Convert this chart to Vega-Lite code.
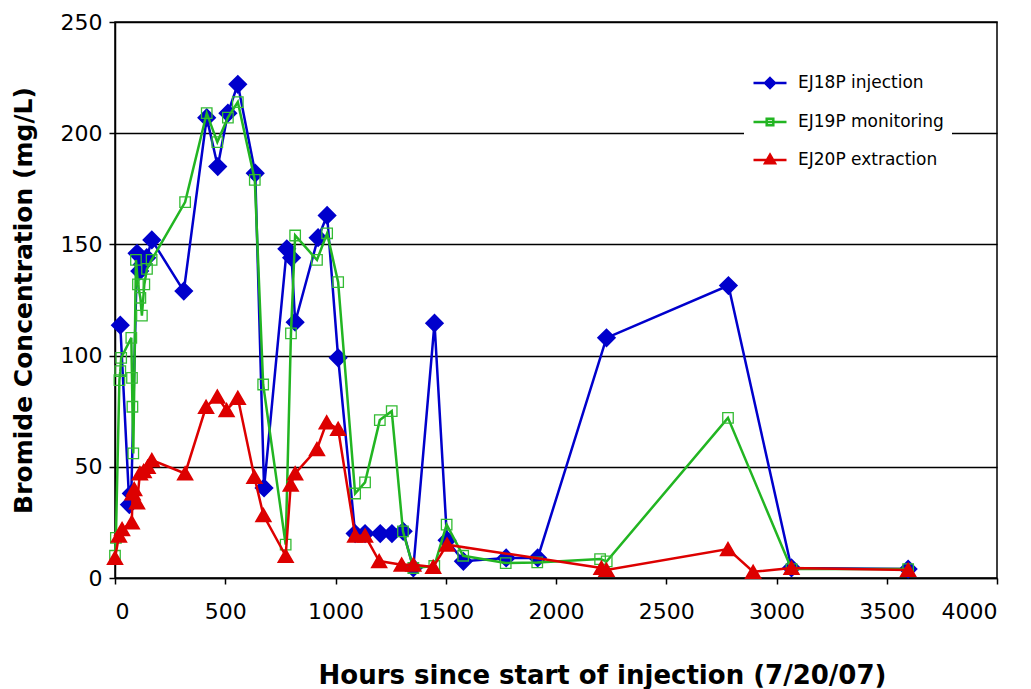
{
  "$schema": "https://vega.github.io/schema/vega-lite/v6.json",
  "width": 882,
  "height": 556,
  "autosize": "none",
  "padding": {"left": 115, "top": 22, "right": 34, "bottom": 111},
  "background": "white",
  "config": {
    "font": "DejaVu Sans",
    "view": {"stroke": "#000000", "strokeWidth": 1.5},
    "axis": {
      "domainColor": "#000000", "domainWidth": 1.5,
      "tickColor": "#000000", "tickWidth": 1.5, "tickSize": 6,
      "labelFont": "DejaVu Sans", "labelFontSize": 22, "labelColor": "#000000",
      "titleFont": "DejaVu Sans", "titleFontWeight": "bold", "titleColor": "#000000",
      "gridColor": "#000000", "gridWidth": 1.3, "gridOpacity": 1
    }
  },
  "datasets": {
    "pts": [
    {"s": "EJ18P injection", "h": 24, "c": 113.7},
    {"s": "EJ18P injection", "h": 65, "c": 33},
    {"s": "EJ18P injection", "h": 74, "c": 38},
    {"s": "EJ18P injection", "h": 100, "c": 146},
    {"s": "EJ18P injection", "h": 112, "c": 138},
    {"s": "EJ18P injection", "h": 124, "c": 141},
    {"s": "EJ18P injection", "h": 144, "c": 144},
    {"s": "EJ18P injection", "h": 167, "c": 152},
    {"s": "EJ18P injection", "h": 312, "c": 129},
    {"s": "EJ18P injection", "h": 416, "c": 207},
    {"s": "EJ18P injection", "h": 466, "c": 185},
    {"s": "EJ18P injection", "h": 512, "c": 209},
    {"s": "EJ18P injection", "h": 557, "c": 222},
    {"s": "EJ18P injection", "h": 636, "c": 182},
    {"s": "EJ18P injection", "h": 676, "c": 40.5},
    {"s": "EJ18P injection", "h": 779, "c": 148},
    {"s": "EJ18P injection", "h": 801, "c": 144},
    {"s": "EJ18P injection", "h": 817, "c": 115},
    {"s": "EJ18P injection", "h": 921, "c": 153},
    {"s": "EJ18P injection", "h": 962, "c": 163},
    {"s": "EJ18P injection", "h": 1012, "c": 99},
    {"s": "EJ18P injection", "h": 1089, "c": 20},
    {"s": "EJ18P injection", "h": 1134, "c": 20},
    {"s": "EJ18P injection", "h": 1203, "c": 20},
    {"s": "EJ18P injection", "h": 1256, "c": 20},
    {"s": "EJ18P injection", "h": 1307, "c": 21},
    {"s": "EJ18P injection", "h": 1353, "c": 4.5},
    {"s": "EJ18P injection", "h": 1449, "c": 114.6},
    {"s": "EJ18P injection", "h": 1506, "c": 17},
    {"s": "EJ18P injection", "h": 1580, "c": 7.5},
    {"s": "EJ18P injection", "h": 1774, "c": 9},
    {"s": "EJ18P injection", "h": 1917, "c": 9},
    {"s": "EJ18P injection", "h": 2229, "c": 108},
    {"s": "EJ18P injection", "h": 2782, "c": 131.5},
    {"s": "EJ18P injection", "h": 3068, "c": 4.5},
    {"s": "EJ18P injection", "h": 3597, "c": 4},
    {"s": "EJ19P monitoring", "h": 0, "c": 10},
    {"s": "EJ19P monitoring", "h": 4, "c": 18},
    {"s": "EJ19P monitoring", "h": 20, "c": 89},
    {"s": "EJ19P monitoring", "h": 24, "c": 93},
    {"s": "EJ19P monitoring", "h": 28, "c": 99},
    {"s": "EJ19P monitoring", "h": 74, "c": 108},
    {"s": "EJ19P monitoring", "h": 77, "c": 90},
    {"s": "EJ19P monitoring", "h": 79, "c": 77},
    {"s": "EJ19P monitoring", "h": 83, "c": 56},
    {"s": "EJ19P monitoring", "h": 95, "c": 143},
    {"s": "EJ19P monitoring", "h": 104, "c": 132},
    {"s": "EJ19P monitoring", "h": 115, "c": 126},
    {"s": "EJ19P monitoring", "h": 122, "c": 118},
    {"s": "EJ19P monitoring", "h": 133, "c": 132},
    {"s": "EJ19P monitoring", "h": 145, "c": 139},
    {"s": "EJ19P monitoring", "h": 166, "c": 143},
    {"s": "EJ19P monitoring", "h": 318, "c": 169},
    {"s": "EJ19P monitoring", "h": 416, "c": 209},
    {"s": "EJ19P monitoring", "h": 464, "c": 196},
    {"s": "EJ19P monitoring", "h": 512, "c": 207},
    {"s": "EJ19P monitoring", "h": 557, "c": 214},
    {"s": "EJ19P monitoring", "h": 634, "c": 179},
    {"s": "EJ19P monitoring", "h": 672, "c": 87},
    {"s": "EJ19P monitoring", "h": 774, "c": 15},
    {"s": "EJ19P monitoring", "h": 798, "c": 110},
    {"s": "EJ19P monitoring", "h": 817, "c": 154},
    {"s": "EJ19P monitoring", "h": 916, "c": 143},
    {"s": "EJ19P monitoring", "h": 962, "c": 155},
    {"s": "EJ19P monitoring", "h": 1012, "c": 133},
    {"s": "EJ19P monitoring", "h": 1089, "c": 38},
    {"s": "EJ19P monitoring", "h": 1134, "c": 43},
    {"s": "EJ19P monitoring", "h": 1201, "c": 71},
    {"s": "EJ19P monitoring", "h": 1255, "c": 75},
    {"s": "EJ19P monitoring", "h": 1306, "c": 21},
    {"s": "EJ19P monitoring", "h": 1353, "c": 4.5},
    {"s": "EJ19P monitoring", "h": 1448, "c": 5.4},
    {"s": "EJ19P monitoring", "h": 1504, "c": 24},
    {"s": "EJ19P monitoring", "h": 1579, "c": 10},
    {"s": "EJ19P monitoring", "h": 1772, "c": 6.7},
    {"s": "EJ19P monitoring", "h": 1915, "c": 7},
    {"s": "EJ19P monitoring", "h": 2200, "c": 8.5},
    {"s": "EJ19P monitoring", "h": 2230, "c": 7.5},
    {"s": "EJ19P monitoring", "h": 2780, "c": 72},
    {"s": "EJ19P monitoring", "h": 3068, "c": 4},
    {"s": "EJ19P monitoring", "h": 3597, "c": 4},
    {"s": "EJ20P extraction", "h": 0, "c": 9},
    {"s": "EJ20P extraction", "h": 18, "c": 19},
    {"s": "EJ20P extraction", "h": 32, "c": 22},
    {"s": "EJ20P extraction", "h": 76, "c": 25},
    {"s": "EJ20P extraction", "h": 80, "c": 38},
    {"s": "EJ20P extraction", "h": 87, "c": 40},
    {"s": "EJ20P extraction", "h": 100, "c": 34},
    {"s": "EJ20P extraction", "h": 113, "c": 47},
    {"s": "EJ20P extraction", "h": 130, "c": 48},
    {"s": "EJ20P extraction", "h": 148, "c": 50},
    {"s": "EJ20P extraction", "h": 167, "c": 53},
    {"s": "EJ20P extraction", "h": 318, "c": 47},
    {"s": "EJ20P extraction", "h": 413, "c": 77},
    {"s": "EJ20P extraction", "h": 464, "c": 81.5},
    {"s": "EJ20P extraction", "h": 506, "c": 75.5},
    {"s": "EJ20P extraction", "h": 557, "c": 81},
    {"s": "EJ20P extraction", "h": 632, "c": 45.5},
    {"s": "EJ20P extraction", "h": 673, "c": 28.3},
    {"s": "EJ20P extraction", "h": 774, "c": 10},
    {"s": "EJ20P extraction", "h": 797, "c": 42},
    {"s": "EJ20P extraction", "h": 817, "c": 47},
    {"s": "EJ20P extraction", "h": 916, "c": 58},
    {"s": "EJ20P extraction", "h": 960, "c": 70},
    {"s": "EJ20P extraction", "h": 1012, "c": 67},
    {"s": "EJ20P extraction", "h": 1089, "c": 19},
    {"s": "EJ20P extraction", "h": 1134, "c": 19},
    {"s": "EJ20P extraction", "h": 1198, "c": 7.6},
    {"s": "EJ20P extraction", "h": 1300, "c": 6},
    {"s": "EJ20P extraction", "h": 1353, "c": 6},
    {"s": "EJ20P extraction", "h": 1443, "c": 5},
    {"s": "EJ20P extraction", "h": 1506, "c": 15},
    {"s": "EJ20P extraction", "h": 2206, "c": 4.5},
    {"s": "EJ20P extraction", "h": 2229, "c": 3.6},
    {"s": "EJ20P extraction", "h": 2780, "c": 13},
    {"s": "EJ20P extraction", "h": 2894, "c": 2.8},
    {"s": "EJ20P extraction", "h": 3068, "c": 4.5},
    {"s": "EJ20P extraction", "h": 3597, "c": 3.6}
    ],
    "keys": [
      {"s": "EJ18P injection", "h": null, "c": null},
      {"s": "EJ19P monitoring", "h": null, "c": null},
      {"s": "EJ20P extraction", "h": null, "c": null}
    ]
  },
  "data": {"name": "pts"},
  "encoding": {
    "x": {"field": "h", "type": "quantitative",
      "scale": {"domain": [0, 4000], "nice": false},
      "axis": {"values": [0, 500, 1000, 1500, 2000, 2500, 3000, 3500, 4000], "grid": false, "format": "d",
        "labelPadding": 17, "title": "Hours since start of injection (7/20/07)",
        "titleFontSize": 26, "titlePadding": 40, "titleX": 487}},
    "y": {"field": "c", "type": "quantitative",
      "scale": {"domain": [0, 250], "nice": false},
      "axis": {"values": [0, 50, 100, 150, 200, 250], "grid": true, "format": "d",
        "labelPadding": 7, "title": "Bromide Concentration  (mg/L)",
        "titleFontSize": 25, "titlePadding": 24}}
  },
  "layer": [
    {
      "transform": [{"filter": "datum.s === 'EJ18P injection'"}],
      "mark": {"type": "line", "strokeWidth": 2.5, "color": "#0000CC"},
      "encoding": {"detail": {"field": "s", "type": "nominal"}}
    },
    {
      "transform": [{"filter": "datum.s === 'EJ18P injection'"}],
      "mark": {"type": "point", "shape": "diamond", "filled": true, "fill": "#0000CC", "stroke": "#0000CC", "size": 270, "opacity": 1}
    },
    {
      "transform": [{"filter": "datum.s === 'EJ19P monitoring'"}],
      "mark": {"type": "line", "strokeWidth": 2.5, "color": "#22B522"},
      "encoding": {"detail": {"field": "s", "type": "nominal"}}
    },
    {
      "transform": [{"filter": "datum.s === 'EJ19P monitoring'"}],
      "mark": {"type": "point", "shape": "square", "filled": false, "fill": "transparent", "stroke": "#33BB33", "strokeWidth": 1.3, "size": 110, "opacity": 1}
    },
    {
      "transform": [{"filter": "datum.s === 'EJ20P extraction'"}],
      "mark": {"type": "line", "strokeWidth": 2.5, "color": "#DD0000"},
      "encoding": {"detail": {"field": "s", "type": "nominal"}}
    },
    {
      "transform": [{"filter": "datum.s === 'EJ20P extraction'"}],
      "mark": {"type": "point", "shape": "triangle-up", "filled": true, "fill": "#DD0000", "stroke": "#DD0000", "size": 200, "opacity": 1}
    },
    {
      "data": {"name": "keys"},
      "mark": {"type": "point", "filled": true, "opacity": 1, "strokeWidth": 2.5},
      "encoding": {
        "shape": {"field": "s", "type": "nominal",
          "scale": {"domain": ["EJ18P injection", "EJ19P monitoring", "EJ20P extraction"],
            "range": ["M-1,0H1M0,-0.3L0.3,0L0,0.3L-0.3,0Z", "M-1,0H1M-0.2,-0.2H0.2V0.2H-0.2Z", "M-1,0H1M0,-0.32L0.3,0.2L-0.3,0.2Z"]},
          "legend": {"title": null, "orient": "none", "legendX": 629, "legendY": 35,
            "fillColor": "white", "padding": 8, "symbolSize": 1089, "symbolStrokeWidth": 2.5,
            "labelFontSize": 17, "labelFont": "DejaVu Sans", "labelColor": "#000000",
            "labelOffset": 10, "rowPadding": 11, "labelLimit": 300}},
        "fill": {"field": "s", "type": "nominal",
          "scale": {"domain": ["EJ18P injection", "EJ19P monitoring", "EJ20P extraction"], "range": ["#0000CC", "transparent", "#DD0000"]},
          "legend": {"title": null, "orient": "none", "legendX": 629, "legendY": 35,
            "fillColor": "white", "padding": 8, "symbolSize": 1089, "symbolStrokeWidth": 2.5,
            "labelFontSize": 17, "labelFont": "DejaVu Sans", "labelColor": "#000000",
            "labelOffset": 10, "rowPadding": 11, "labelLimit": 300}},
        "stroke": {"field": "s", "type": "nominal",
          "scale": {"domain": ["EJ18P injection", "EJ19P monitoring", "EJ20P extraction"], "range": ["#0000CC", "#22B522", "#DD0000"]},
          "legend": {"title": null, "orient": "none", "legendX": 629, "legendY": 35,
            "fillColor": "white", "padding": 8, "symbolSize": 1089, "symbolStrokeWidth": 2.5,
            "labelFontSize": 17, "labelFont": "DejaVu Sans", "labelColor": "#000000",
            "labelOffset": 10, "rowPadding": 11, "labelLimit": 300}}
      }
    }
  ]
}
